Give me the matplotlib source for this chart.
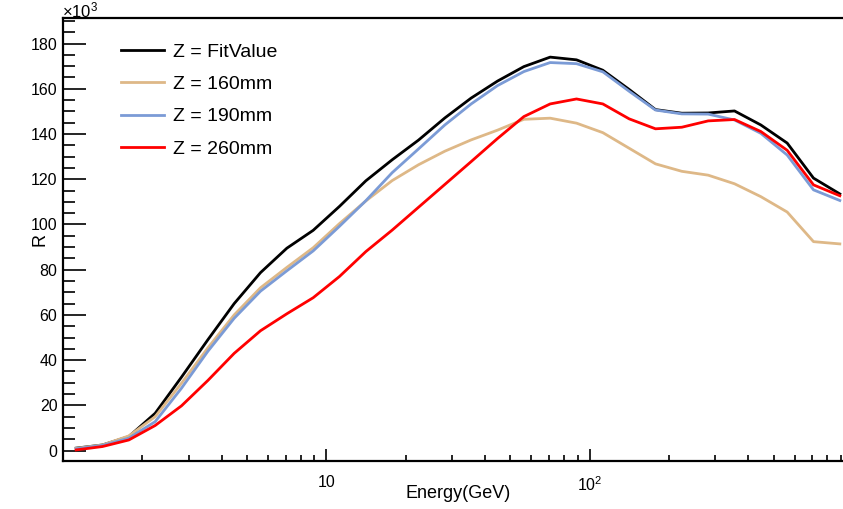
import numpy as np
import matplotlib
matplotlib.use("Agg")
import matplotlib.pyplot as plt
from matplotlib.ticker import FixedLocator, NullFormatter

plt.rcParams["font.family"] = ["Liberation Sans", "DejaVu Sans"]
plt.rcParams["mathtext.fontset"] = "custom"
plt.rcParams["mathtext.rm"] = "Liberation Sans"
plt.rcParams["mathtext.it"] = "Liberation Sans:italic"

# --- Data (energy bins, log-spaced) ---
log_energy = [0.05, 0.15, 0.25, 0.35, 0.45, 0.55, 0.65, 0.75, 0.85, 0.95,
              1.05, 1.15, 1.25, 1.35, 1.45, 1.55, 1.65, 1.75, 1.85, 1.95,
              2.05, 2.15, 2.25, 2.35, 2.45, 2.55, 2.65, 2.75, 2.85, 2.95]
energy = [10 ** v for v in log_energy]

# R values in units of 1e3
r_fit = [1.1, 2.5, 6.2, 16.5, 32.5, 49.0, 65.0, 78.7, 89.5, 97.4,
         108.0, 119.3, 128.6, 137.3, 147.1, 155.9, 163.4, 169.8, 174.0, 172.8,
         168.2, 159.7, 150.8, 149.2, 149.3, 150.2, 144.0, 136.0, 120.5, 113.5]
r_160 = [1.0, 2.5, 6.5, 15.0, 29.8, 45.4, 60.0, 72.0, 81.0, 89.7,
         100.4, 110.4, 119.4, 126.4, 132.4, 137.4, 141.7, 146.5, 147.0, 144.8,
         140.6, 133.7, 126.8, 123.5, 121.8, 118.0, 112.3, 105.5, 92.4, 91.4]
r_190 = [0.8, 2.3, 5.5, 12.8, 27.6, 43.9, 58.5, 70.5, 79.5, 88.3,
         99.2, 110.5, 122.9, 133.4, 144.0, 153.3, 161.4, 167.6, 171.6, 171.1,
         167.5, 158.9, 150.6, 148.9, 148.8, 146.2, 140.3, 130.7, 115.3, 110.6]
r_260 = [0.3, 1.8, 4.7, 11.1, 19.8, 31.0, 43.0, 53.0, 60.5, 67.6,
         77.0, 88.0, 97.5, 107.6, 117.7, 127.8, 138.0, 147.7, 153.3, 155.5,
         153.3, 146.7, 142.3, 143.0, 145.8, 146.4, 141.1, 132.8, 117.5, 112.7]

labels = ["Z = FitValue", "Z = 160mm", "Z = 190mm", "Z = 260mm"]
colors = ["#000000", "#deb887", "#7b9bd6", "#ff0000"]

W, H = 843, 509
fig = plt.figure(figsize=(W / 100, H / 100), dpi=100)
ax = fig.add_axes([63 / W, 48 / H, 790 / W, 443 / H])

for ys, lab, c in zip([r_fit, r_160, r_190, r_260], labels, colors):
    ax.plot(energy, ys, color=c, lw=2, label=lab, solid_joinstyle="round")

ax.set_xscale("log")
ax.set_xlim(1, 1000)
ax.set_ylim(-4.6, 191.3)

# ROOT-like axes
for s in ["left", "bottom", "top", "right"]:
    ax.spines[s].set_linewidth(1.6)

ax.set_xticks([10, 100])
ax.set_xticklabels(["10", r"10$^{2}$"])
minor = [m * 10 ** d for d in range(0, 3) for m in range(2, 10)]
ax.xaxis.set_minor_locator(FixedLocator(minor))
ax.xaxis.set_minor_formatter(NullFormatter())
ax.tick_params(axis="x", which="major", direction="in", length=9, width=1.2,
               labelsize=11.5, pad=10, top=False)
ax.tick_params(axis="x", which="minor", direction="in", length=4.3, width=1.2,
               top=False)

ax.set_yticks(np.arange(0, 181, 20))
ax.yaxis.set_minor_locator(FixedLocator(np.arange(-5, 195, 5)))
ax.tick_params(axis="y", which="major", direction="in", length=16.5, width=1.2,
               labelsize=11.5, pad=4, right=False)
ax.tick_params(axis="y", which="minor", direction="in", length=8.5, width=1.2,
               right=False)

ax.set_xlabel("Energy(GeV)", fontsize=13)
ax.xaxis.set_label_coords(0.5, -32 / 443)
ax.xaxis.label.set_va("center")
ax.set_ylabel("R", fontsize=13)
ax.yaxis.set_label_coords(-23 / 790, 0.5)
ax.yaxis.label.set_va("center")

fig.text(62 / W, 1 - 17 / H, r"$\times$10$^{3}$", fontsize=12,
         ha="left", va="baseline")

ax.legend(loc="upper left", bbox_to_anchor=(121 / W, 1 - 43 / H),
          bbox_transform=fig.transFigure, frameon=False, fontsize=14,
          handlelength=2.2, handletextpad=0.45, labelspacing=0.76,
          borderpad=0, borderaxespad=0)

fig.savefig("out.png", dpi=100)
